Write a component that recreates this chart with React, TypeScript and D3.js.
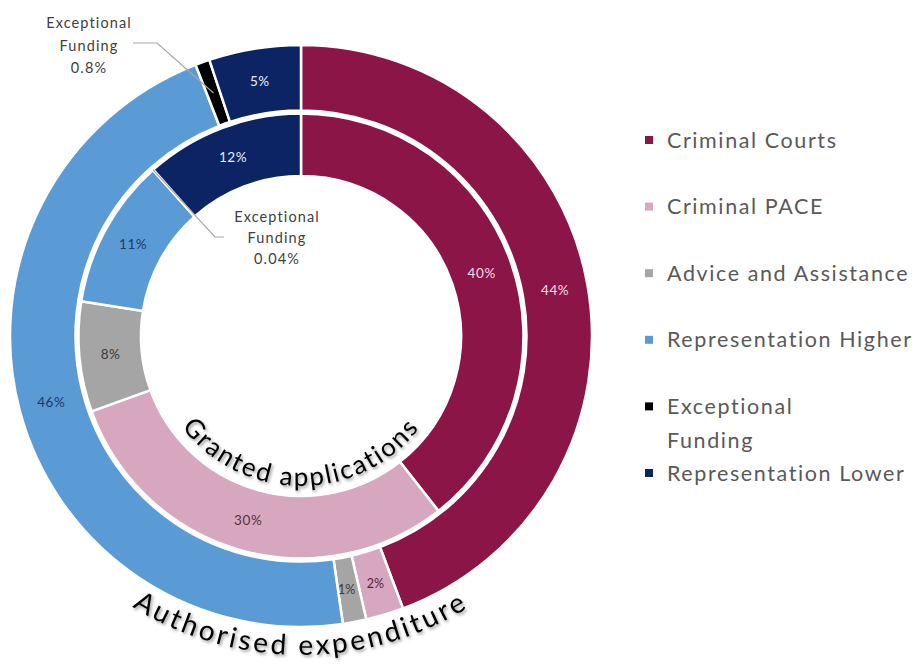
import React from 'react';
import * as d3 from 'd3';

const categories = ['Criminal Courts', 'Criminal PACE', 'Advice and Assistance', 'Representation Higher', 'Exceptional Funding', 'Representation Lower'];
const legendLines = [['Criminal Courts'], ['Criminal PACE'], ['Advice and Assistance'], ['Representation Higher'], ['Exceptional', 'Funding'], ['Representation Lower']];
const expenditureValues = [44.3, 2.1, 1.3, 46.4, 0.8, 5.1];
const expenditureLabels = ['44%', '2%', '1%', '46%', '0.8%', '5%'];
const applicationValues = [39.4, 30.1, 8.0, 10.9, 0.04, 11.56];
const applicationLabels = ['40%', '30%', '8%', '11%', '0.04%', '12%'];
const seriesTitles = ['Granted applications', 'Authorised expenditure'];

const COLORS = ['#8C1548', '#D6A7BE', '#A5A5A5', '#5B9BD5', '#000000', '#0C2463'];
const OUTER_LABEL_COLORS = ['#F3DDE7', '#5A1F3A', '#3A3A3A', '#1F3864', '#000', '#E8EDF6'];
const INNER_LABEL_COLORS = ['#F3DDE7', '#4F3340', '#3A3A3A', '#1F3864', '#000', '#E8EDF6'];

const W = 920, H = 666;
const CX = 301, CY = 336;
const OUTER = { r0: 225.5, r1: 291 };
const INNER = { r0: 160, r1: 222.5 };
const FONT = 'Lato, "Open Sans", sans-serif';

type D = { cat: string; v: number; label: string; i: number };

function build(values: number[], labels: string[]): d3.PieArcDatum<D>[] {
  const data: D[] = categories.map((c, i) => ({ cat: c, v: values[i], label: labels[i], i }));
  return d3.pie<D>().sort(null).value(d => d.v).startAngle(0).endAngle(Math.PI * 2)(data);
}

function polar(r: number, a: number): [number, number] {
  return [CX + r * Math.sin(a), CY - r * Math.cos(a)];
}

export default function App() {
  const outer = build(expenditureValues, expenditureLabels);
  const inner = build(applicationValues, applicationLabels);
  const arcOuter = d3.arc<d3.PieArcDatum<D>>().innerRadius(OUTER.r0).outerRadius(OUTER.r1);
  const arcInner = d3.arc<d3.PieArcDatum<D>>().innerRadius(INNER.r0).outerRadius(INNER.r1);

  const excIdx = 4;
  const oExc = outer[excIdx];
  const iExc = inner[excIdx];
  const oMid = (oExc.startAngle + oExc.endAngle) / 2;
  const iMid = (iExc.startAngle + iExc.endAngle) / 2;
  const oStart = polar((OUTER.r0 + OUTER.r1) / 2, oMid);
  const iStart = polar(INNER.r1, iMid);

  const innerTextR = 150;
  const outerTextR = 319;
  const semi = (r: number) => `M${CX - r},${CY} A${r},${r} 0 0 0 ${CX + r},${CY}`;

  const legendX = 645;
  const legendY0 = 140;
  const legendStep = 66.6;

  const smallIdx = new Set([1, 2]);

  return (
    <svg width={W} height={H} style={{ position: 'absolute', left: 0, top: 0, background: '#fff' }} fontFamily={FONT}>
      <defs>
        <filter id="shadow" x="-10%" y="-30%" width="120%" height="160%">
          <feDropShadow dx="1.5" dy="2" stdDeviation="1.6" floodColor="#000" floodOpacity="0.4" />
        </filter>
        <path id="innerPath" d={semi(innerTextR)} />
        <path id="outerPath" d={semi(outerTextR)} />
      </defs>
      <g transform={`translate(${CX},${CY})`}>
        {outer.map((d, k) => (
          <path key={'o' + k} d={arcOuter(d) || ''} fill={COLORS[d.data.i]} stroke="#fff" strokeWidth={2.5} strokeLinejoin="round" />
        ))}
        {inner.map((d, k) => (
          <path key={'i' + k} d={arcInner(d) || ''} fill={COLORS[d.data.i]} stroke="#fff" strokeWidth={2.5} strokeLinejoin="round" />
        ))}
        <g fontSize={13.5} textAnchor="middle">
          {outer.filter(d => d.data.i !== excIdx).map((d, k) => {
            const [x, y] = arcOuter.centroid(d);
            const small = smallIdx.has(d.data.i);
            return (
              <text key={'ol' + k} x={x + (d.data.i === 2 ? -2 : 0)} y={y} dy="0.35em" fill={OUTER_LABEL_COLORS[d.data.i]}
                letterSpacing={small ? 0 : 0.6} fontSize={small ? 12.5 : 13.5}>{d.data.label}</text>
            );
          })}
          {inner.filter(d => d.data.i !== excIdx).map((d, k) => {
            const [x, y] = arcInner.centroid(d);
            return <text key={'il' + k} x={x} y={y} dy="0.35em" fill={INNER_LABEL_COLORS[d.data.i]} letterSpacing={0.6}>{d.data.label}</text>;
          })}
        </g>
      </g>
      {/* callouts */}
      <g fill="none" stroke="#A6A6A6" strokeWidth={1.2}>
        <polyline points={`${oStart[0]},${oStart[1]} 157,43 133,43`} />
        <polyline points={`${iStart[0]},${iStart[1]} 215,237 224,237`} />
      </g>
      <g fontSize={14.5} textAnchor="middle" fill="#404040" letterSpacing={1.1}>
        <text x={89} y={23} dy="0.35em">Exceptional</text>
        <text x={89} y={46} dy="0.35em">Funding</text>
        <text x={89} y={68} dy="0.35em">{oExc.data.label}</text>
        <text x={277} y={217} dy="0.35em">Exceptional</text>
        <text x={277} y={238} dy="0.35em">Funding</text>
        <text x={277} y={259} dy="0.35em">{iExc.data.label}</text>
      </g>
      {/* curved titles */}
      <g filter="url(#shadow)" fill="#000">
        <text fontSize={26} letterSpacing={2}>
          <textPath href="#innerPath" startOffset="50%" textAnchor="middle">{seriesTitles[0]}</textPath>
        </text>
        <text fontSize={28} letterSpacing={3}>
          <textPath href="#outerPath" startOffset="50%" textAnchor="middle">{seriesTitles[1]}</textPath>
        </text>
      </g>
      {/* legend */}
      <g fontSize={21.5} fill="#595959" letterSpacing={1.6}>
        {legendLines.map((lines, i) => {
          const y = legendY0 + i * legendStep;
          return (
            <g key={'lg' + i}>
              <rect x={legendX} y={y - 4} width={8} height={8} fill={COLORS[i]} />
              {lines.map((ln, j) => (
                <text key={j} x={legendX + 22} y={y + j * 34} dy="0.35em">{ln}</text>
              ))}
            </g>
          );
        })}
      </g>
    </svg>
  );
}
